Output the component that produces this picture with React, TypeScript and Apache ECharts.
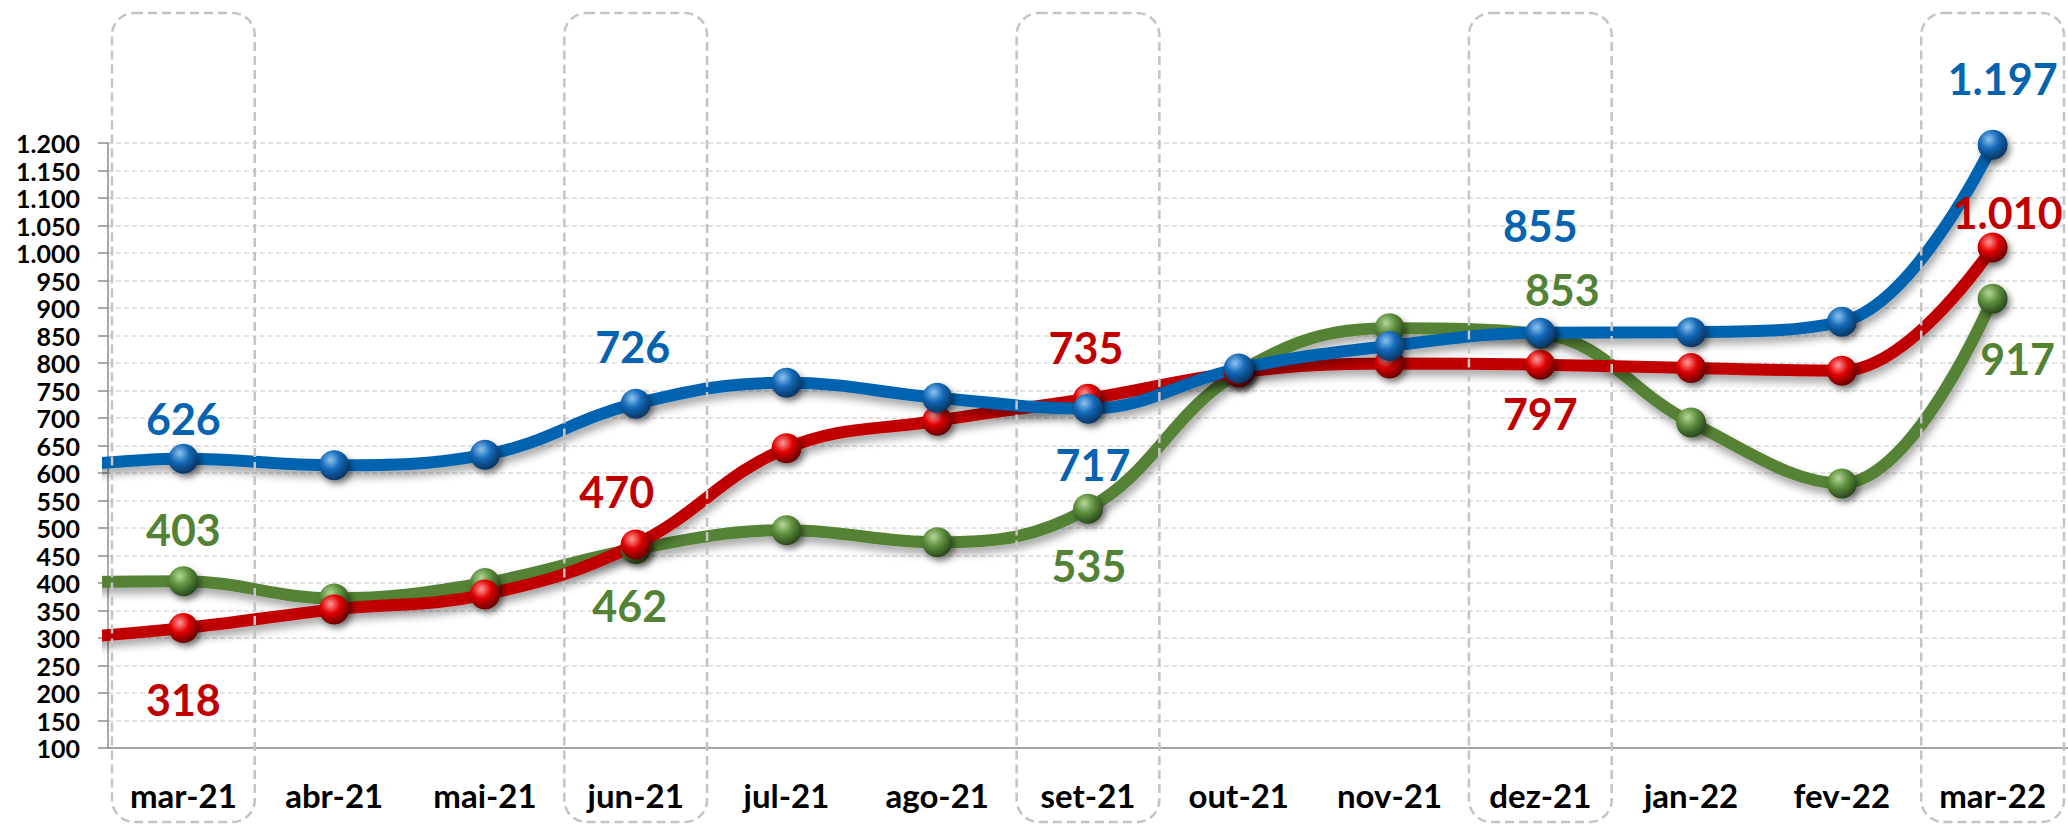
import React, { useEffect, useRef } from "react";
import * as echarts from "echarts";

// Categories shown on the axis
const months = [
  "mar-21", "abr-21", "mai-21", "jun-21", "jul-21", "ago-21", "set-21",
  "out-21", "nov-21", "dez-21", "jan-22", "fev-22", "mar-22",
];
// Months framed by a dashed box
const highlightedMonths = ["mar-21", "jun-21", "set-21", "dez-21", "mar-22"];

// Value of the month before mar-21 (only its line reaches the plot edge)
const blueLead = 605;
const redLead = 295;
const greenLead = 400;

const blueValues = [626, 614, 633, 726, 764, 737, 717, 790, 831, 855, 856, 875, 1197];
const redValues = [318, 352, 379, 470, 645, 695, 735, 783, 799, 797, 791, 786, 1010];
const greenValues = [403, 372, 400, 462, 496, 474, 535, 783, 863, 853, 692, 581, 917];

const yMin = 100;
const yMax = 1200;
const yStep = 50;

// label placement (offset from the marker centre), by month index
const blueLabelOffsets: Record<number, number[]> = { 0: [0, -40], 3: [-3, -57], 6: [5, 56], 9: [0, -107], 12: [10, -66] };
const redLabelOffsets: Record<number, number[]> = { 0: [0, 71], 3: [-19, -53], 6: [-2, -51], 9: [0, 49], 12: [15, -35] };
const greenLabelOffsets: Record<number, number[]> = { 0: [0, -52], 3: [-6, 57], 6: [1, 57], 9: [22, -44], 12: [25, 60] };

const FONT = "Lato, 'Open Sans', sans-serif";

const fmt = (v: number) => String(Math.round(v)).replace(/\B(?=(\d{3})+(?!\d))/g, ".");

function sphere(light: string, base: string, dark: string) {
  return new echarts.graphic.RadialGradient(0.38, 0.32, 0.72, [
    { offset: 0, color: light },
    { offset: 0.45, color: base },
    { offset: 1, color: dark },
  ]);
}

function buildSeries(
  name: string,
  lead: number,
  values: number[],
  offsets: Record<number, number[]>,
  lineColor: string,
  ball: any
) {
  const data: any[] = [{ value: [-1, lead], symbol: "none", label: { show: false } }];
  values.forEach((v, i) => {
    const off = offsets[i];
    data.push({
      value: [i, v],
      label: off
        ? {
            show: true,
            position: "inside",
            offset: off,
            formatter: (p: any) => fmt(p.value[1]),
            color: lineColor,
            fontFamily: FONT,
            fontWeight: "bold",
            fontSize: 43,
          }
        : { show: false },
    });
  });
  return {
    name,
    type: "line",
    xAxisIndex: 1,
    yAxisIndex: 0,
    smooth: 0.4,
    clip: true,
    data,
    symbol: "circle",
    symbolSize: 30,
    lineStyle: {
      width: 12,
      color: lineColor,
      shadowColor: "rgba(0,0,0,0.35)",
      shadowBlur: 8,
      shadowOffsetX: 2,
      shadowOffsetY: 6,
    },
    itemStyle: {
      color: ball,
      borderWidth: 0,
      shadowColor: "rgba(0,0,0,0.45)",
      shadowBlur: 6,
      shadowOffsetX: 3,
      shadowOffsetY: 4,
    },
    emphasis: { disabled: true },
    z: 3,
  };
}

export default function App() {
  const ref = useRef<HTMLDivElement>(null);

  useEffect(() => {
    if (!ref.current) return;
    const chart = echarts.init(ref.current, undefined, { renderer: "svg" });

    const option: any = {
      animation: false,
      backgroundColor: "#ffffff",
      grid: { left: 108, right: 0, top: 143, bottom: 77, containLabel: false },
      xAxis: [
        {
          type: "category",
          data: months,
          boundaryGap: true,
          position: "bottom",
          axisLine: { show: true, onZero: false, lineStyle: { color: "#8C8C8C", width: 1.5 } },
          axisTick: { show: false },
          splitLine: { show: false },
          axisLabel: {
            color: "#000",
            fontFamily: FONT,
            fontWeight: "bold",
            fontSize: 33,
            margin: 30,
            interval: 0,
          },
        },
        {
          type: "value",
          min: -0.5,
          max: 12.5,
          show: false,
          axisLine: { onZero: false },
          splitLine: { show: false },
        },
      ],
      yAxis: {
        type: "value",
        min: yMin,
        max: yMax,
        interval: yStep,
        axisLine: { show: true, onZero: false, lineStyle: { color: "#8C8C8C", width: 1.5 } },
        axisTick: { show: true, length: 10, lineStyle: { color: "#8C8C8C", width: 1.5 } },
        splitLine: { show: true, lineStyle: { color: "#D9D9D9", type: [5, 3], width: 1.5 } },
        axisLabel: {
          color: "#000",
          fontFamily: FONT,
          fontWeight: "bold",
          fontSize: 25,
          margin: 28,
          formatter: (v: number) => fmt(v),
        },
      },
      series: [
        buildSeries("green", greenLead, greenValues, greenLabelOffsets, "#548235",
          sphere("#B5D69A", "#5E8F3C", "#24401A")),
        buildSeries("red", redLead, redValues, redLabelOffsets, "#C00000",
          sphere("#FF9A9A", "#E00000", "#5E0000")),
        buildSeries("blue", blueLead, blueValues, blueLabelOffsets, "#0563AF",
          sphere("#8CC3F0", "#1469B8", "#06305A")),
      ],
    };
    chart.setOption(option);

    // dashed rounded frames around the highlighted months, placed through the category axis
    const c0 = chart.convertToPixel({ xAxisIndex: 0 }, months[0]) as number;
    const c1 = chart.convertToPixel({ xAxisIndex: 0 }, months[1]) as number;
    const step = c1 - c0;
    const boxW = step - 8;
    const graphics = highlightedMonths.map((m) => {
      const cx = chart.convertToPixel({ xAxisIndex: 0 }, m) as number;
      return {
        type: "rect",
        silent: true,
        z: 100,
        shape: { x: cx - boxW / 2, y: 13, width: boxW, height: 809, r: 22 },
        style: { fill: "none", stroke: "#C4C4C4", lineWidth: 2.5, lineDash: [9, 5] },
      };
    });
    chart.setOption({ graphic: graphics });

    return () => chart.dispose();
  }, []);

  return (
    <div
      ref={ref}
      style={{ position: "fixed", left: 0, top: 0, width: 2068, height: 825, background: "#fff" }}
    />
  );
}
